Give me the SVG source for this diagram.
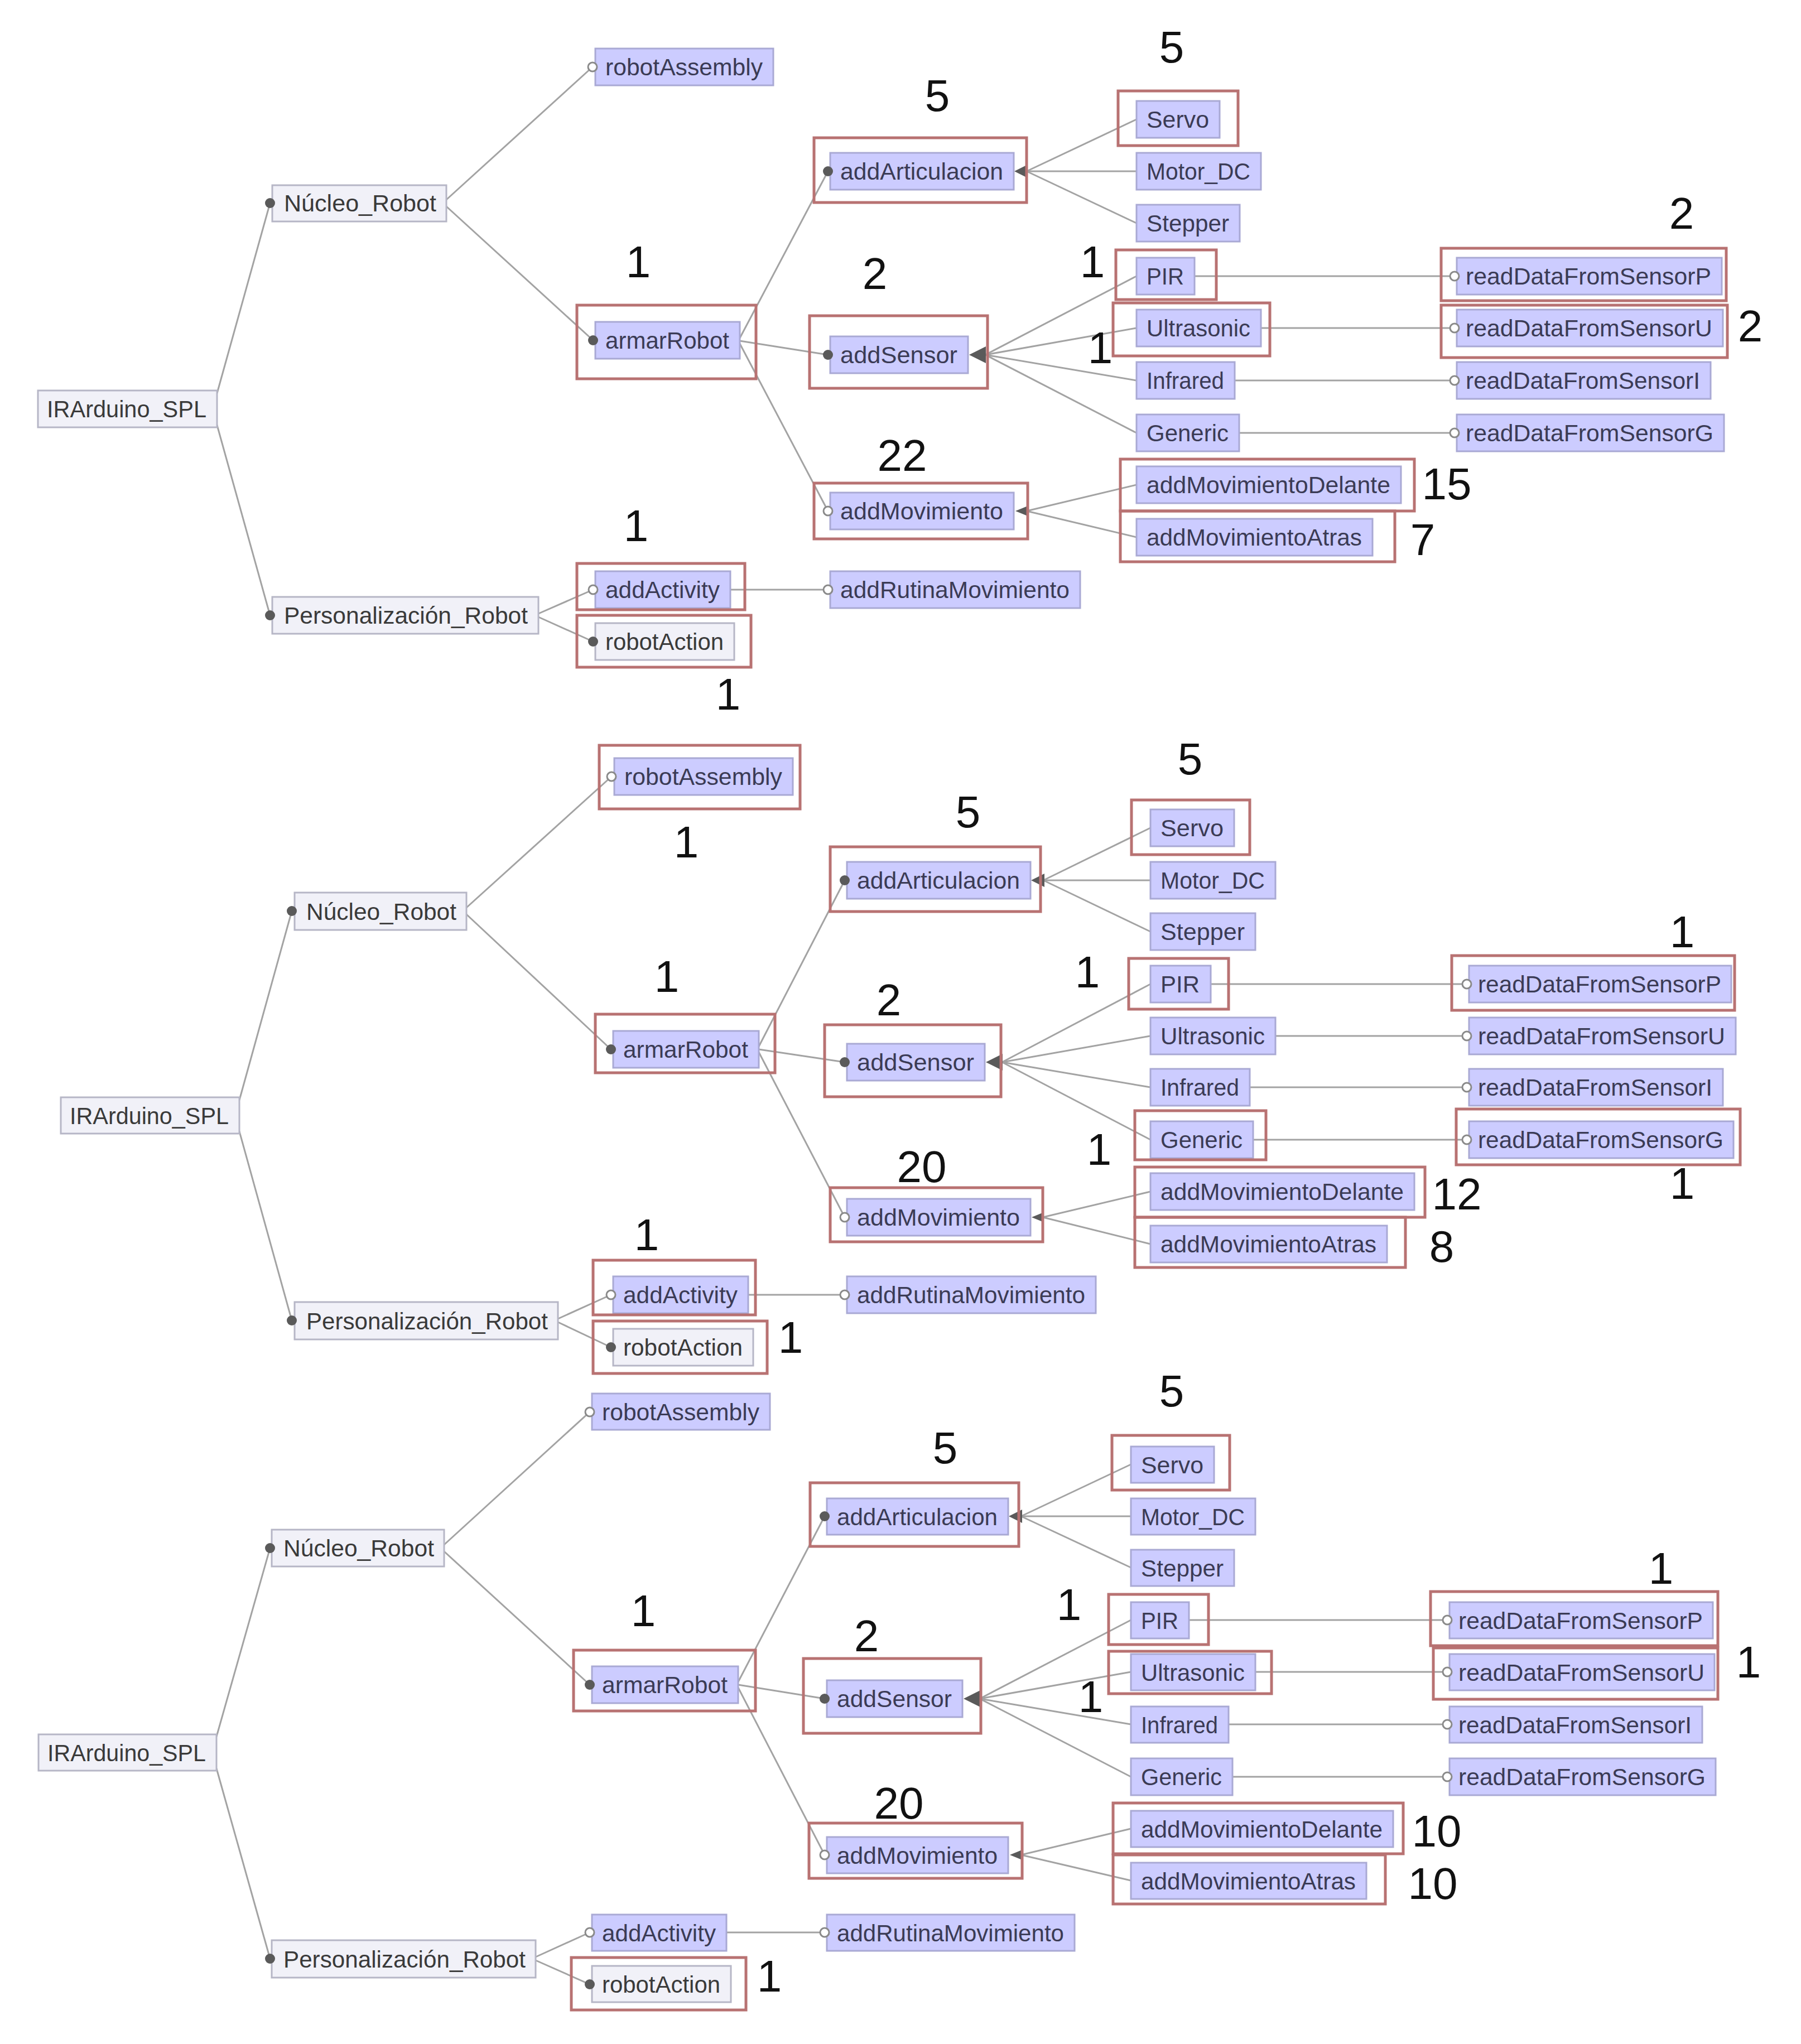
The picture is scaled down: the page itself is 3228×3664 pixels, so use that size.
<svg xmlns="http://www.w3.org/2000/svg" width="3228" height="3664" viewBox="0 0 3228 3664">
<style>
text{font-family:"Liberation Sans",Arial,sans-serif}
.c rect{fill:#ccccff;stroke:#a9a9d4;stroke-width:3}
.a rect{fill:#f1f1f8;stroke:#b6b6c6;stroke-width:3}
.c text,.a text{font-size:43px;fill:#3b3b55}
.a text{fill:#3a3a3a}
.dot{fill:#5a5a5a}
.opn{fill:#fff;stroke:#8a8a8a;stroke-width:3}
.ln line,.ln path{stroke:#a3a3a3;stroke-width:3;fill:none}
.wedge{fill:#5a5a5a}
.hl rect{fill:none;stroke:#b87272;stroke-width:5}
.num text{font-size:80px;fill:#111;text-anchor:middle}
</style>
<rect width="3228" height="3664" fill="#fff"/>

<!-- ===================== DIAGRAM 1 ===================== -->
<g id="d1-connectors" class="ln">
<line x1="389" y1="705" x2="484" y2="364"/><line x1="389" y1="762" x2="484" y2="1103"/>
<line x1="800" y1="358" x2="1062" y2="120"/><line x1="800" y1="370" x2="1063" y2="610"/>
<line x1="1326" y1="606" x2="1484" y2="307"/><line x1="1326" y1="611" x2="1484" y2="636"/><line x1="1326" y1="616" x2="1484" y2="916"/>
<line x1="1840" y1="307" x2="2037" y2="214"/><line x1="1840" y1="307" x2="2037" y2="307"/><line x1="1840" y1="307" x2="2037" y2="400"/>
<line x1="1766" y1="636" x2="2037" y2="495"/><line x1="1766" y1="636" x2="2037" y2="588"/><line x1="1766" y1="636" x2="2037" y2="682"/><line x1="1766" y1="636" x2="2037" y2="776"/>
<line x1="1840" y1="916" x2="2037" y2="869"/><line x1="1840" y1="916" x2="2037" y2="963"/>
<line x1="2141" y1="495" x2="2599" y2="495"/><line x1="2260" y1="588" x2="2599" y2="588"/><line x1="2213" y1="682" x2="2599" y2="682"/><line x1="2221" y1="776" x2="2599" y2="776"/>
<line x1="965" y1="1100" x2="1063" y2="1057"/><line x1="965" y1="1106" x2="1063" y2="1150"/>
<line x1="1309" y1="1057" x2="1484" y2="1057"/>
<polygon class="wedge" points="1818,307 1842,295 1842,319"/>
<polygon class="wedge" points="1737,636 1767,621 1767,651"/>
<polygon class="wedge" points="1820,916 1842,907 1842,925"/>
</g>

<g id="d1-root" class="a"><rect x="68" y="700" width="321" height="66"/><text x="84" y="748" textLength="286" lengthAdjust="spacingAndGlyphs">IRArduino_SPL</text></g>
<g id="d1-nucleo" class="a"><rect x="488" y="332" width="312" height="65"/><text x="509" y="379" textLength="273" lengthAdjust="spacingAndGlyphs">Núcleo_Robot</text><circle class="dot" cx="484" cy="364" r="9"/></g>
<g id="d1-pers" class="a"><rect x="488" y="1070" width="477" height="66"/><text x="509" y="1118" textLength="437" lengthAdjust="spacingAndGlyphs">Personalización_Robot</text><circle class="dot" cx="484" cy="1103" r="9"/></g>
<g id="d1-robotAssembly" class="c"><rect x="1067" y="87" width="319" height="66"/><text x="1085" y="135" textLength="282" lengthAdjust="spacingAndGlyphs">robotAssembly</text><circle class="opn" cx="1062" cy="120" r="8"/></g>
<g id="d1-armarRobot" class="c"><rect x="1067" y="577" width="259" height="66"/><text x="1085" y="625" textLength="222" lengthAdjust="spacingAndGlyphs">armarRobot</text><circle class="dot" cx="1063" cy="610" r="9"/></g>
<g id="d1-addActivity" class="c"><rect x="1067" y="1024" width="242" height="66"/><text x="1085" y="1072" textLength="205" lengthAdjust="spacingAndGlyphs">addActivity</text><circle class="opn" cx="1063" cy="1057" r="8"/></g>
<g id="d1-robotAction" class="a"><rect x="1067" y="1117" width="249" height="66"/><text x="1085" y="1165" textLength="212" lengthAdjust="spacingAndGlyphs">robotAction</text><circle class="dot" cx="1063" cy="1150" r="9"/></g>
<g id="d1-addArticulacion" class="c"><rect x="1488" y="274" width="329" height="66"/><text x="1506" y="322" textLength="292" lengthAdjust="spacingAndGlyphs">addArticulacion</text><circle class="dot" cx="1484" cy="307" r="9"/></g>
<g id="d1-addSensor" class="c"><rect x="1488" y="603" width="247" height="66"/><text x="1506" y="651" textLength="210" lengthAdjust="spacingAndGlyphs">addSensor</text><circle class="dot" cx="1484" cy="636" r="9"/></g>
<g id="d1-addMovimiento" class="c"><rect x="1488" y="883" width="329" height="66"/><text x="1506" y="931" textLength="292" lengthAdjust="spacingAndGlyphs">addMovimiento</text><circle class="opn" cx="1484" cy="916" r="8"/></g>
<g id="d1-addRutinaMovimiento" class="c"><rect x="1488" y="1024" width="448" height="66"/><text x="1506" y="1072" textLength="411" lengthAdjust="spacingAndGlyphs">addRutinaMovimiento</text><circle class="opn" cx="1484" cy="1057" r="8"/></g>
<g id="d1-Servo" class="c"><rect x="2037" y="181" width="149" height="66"/><text x="2055" y="229" textLength="112" lengthAdjust="spacingAndGlyphs">Servo</text></g>
<g id="d1-Motor_DC" class="c"><rect x="2037" y="274" width="223" height="66"/><text x="2055" y="322" textLength="186" lengthAdjust="spacingAndGlyphs">Motor_DC</text></g>
<g id="d1-Stepper" class="c"><rect x="2037" y="367" width="185" height="66"/><text x="2055" y="415" textLength="148" lengthAdjust="spacingAndGlyphs">Stepper</text></g>
<g id="d1-PIR" class="c"><rect x="2037" y="462" width="104" height="66"/><text x="2055" y="510" textLength="67" lengthAdjust="spacingAndGlyphs">PIR</text></g>
<g id="d1-Ultrasonic" class="c"><rect x="2037" y="555" width="223" height="66"/><text x="2055" y="603" textLength="186" lengthAdjust="spacingAndGlyphs">Ultrasonic</text></g>
<g id="d1-Infrared" class="c"><rect x="2037" y="649" width="176" height="66"/><text x="2055" y="697" textLength="139" lengthAdjust="spacingAndGlyphs">Infrared</text></g>
<g id="d1-Generic" class="c"><rect x="2037" y="743" width="184" height="66"/><text x="2055" y="791" textLength="147" lengthAdjust="spacingAndGlyphs">Generic</text></g>
<g id="d1-addMovimientoDelante" class="c"><rect x="2037" y="836" width="474" height="66"/><text x="2055" y="884" textLength="437" lengthAdjust="spacingAndGlyphs">addMovimientoDelante</text></g>
<g id="d1-addMovimientoAtras" class="c"><rect x="2037" y="930" width="423" height="66"/><text x="2055" y="978" textLength="386" lengthAdjust="spacingAndGlyphs">addMovimientoAtras</text></g>
<g id="d1-readDataFromSensorP" class="c"><rect x="2611" y="462" width="475" height="66"/><text x="2627" y="510" textLength="440" lengthAdjust="spacingAndGlyphs">readDataFromSensorP</text><circle class="opn" cx="2607" cy="495" r="8"/></g>
<g id="d1-readDataFromSensorU" class="c"><rect x="2611" y="555" width="477" height="66"/><text x="2627" y="603" textLength="442" lengthAdjust="spacingAndGlyphs">readDataFromSensorU</text><circle class="opn" cx="2607" cy="588" r="8"/></g>
<g id="d1-readDataFromSensorI" class="c"><rect x="2611" y="649" width="455" height="66"/><text x="2627" y="697" textLength="420" lengthAdjust="spacingAndGlyphs">readDataFromSensorI</text><circle class="opn" cx="2607" cy="682" r="8"/></g>
<g id="d1-readDataFromSensorG" class="c"><rect x="2611" y="743" width="479" height="66"/><text x="2627" y="791" textLength="444" lengthAdjust="spacingAndGlyphs">readDataFromSensorG</text><circle class="opn" cx="2607" cy="776" r="8"/></g>

<g id="d1-highlights" class="hl">
<rect x="1034" y="547" width="321" height="132"/>
<rect x="1034" y="1010" width="301" height="83"/>
<rect x="1034" y="1103" width="312" height="93"/>
<rect x="1459" y="247" width="381" height="116"/>
<rect x="1451" y="566" width="319" height="130"/>
<rect x="1459" y="866" width="383" height="100"/>
<rect x="2004" y="163" width="215" height="98"/>
<rect x="2000" y="448" width="180" height="89"/>
<rect x="1995" y="543" width="281" height="95"/>
<rect x="2008" y="823" width="527" height="93"/>
<rect x="2008" y="916" width="492" height="91"/>
<rect x="2583" y="445" width="511" height="94"/>
<rect x="2583" y="547" width="513" height="94"/>
</g>
<g id="d1-numbers" class="num">
<text x="1680" y="199">5</text><text x="2100" y="112">5</text>
<text x="1144" y="497">1</text><text x="1568" y="518">2</text>
<text x="1958" y="497">1</text><text x="1972" y="651">1</text>
<text x="1617" y="844">22</text>
<text x="3014" y="410">2</text><text x="3137" y="612">2</text>
<text x="2593" y="895">15</text><text x="2550" y="995">7</text>
<text x="1140" y="970">1</text><text x="1305" y="1272">1</text>
</g>

<!-- ===================== DIAGRAM 2 ===================== -->
<g id="d2-connectors" class="ln">
<line x1="429" y1="1972" x2="523" y2="1633"/><line x1="429" y1="2028" x2="523" y2="2367"/>
<line x1="836" y1="1627" x2="1096" y2="1392"/><line x1="836" y1="1639" x2="1095" y2="1881"/>
<line x1="1360" y1="1876" x2="1514" y2="1578"/><line x1="1360" y1="1881" x2="1514" y2="1904"/><line x1="1360" y1="1886" x2="1514" y2="2182"/>
<line x1="1870" y1="1578" x2="2062" y2="1484"/><line x1="1870" y1="1578" x2="2062" y2="1578"/><line x1="1870" y1="1578" x2="2062" y2="1670"/>
<line x1="1796" y1="1904" x2="2062" y2="1764"/><line x1="1796" y1="1904" x2="2062" y2="1857"/><line x1="1796" y1="1904" x2="2062" y2="1949"/><line x1="1796" y1="1904" x2="2062" y2="2043"/>
<line x1="1869" y1="2182" x2="2062" y2="2136"/><line x1="1869" y1="2182" x2="2062" y2="2230"/>
<line x1="2170" y1="1764" x2="2621" y2="1764"/><line x1="2286" y1="1857" x2="2621" y2="1857"/><line x1="2240" y1="1949" x2="2621" y2="1949"/><line x1="2246" y1="2043" x2="2621" y2="2043"/>
<line x1="1000" y1="2364" x2="1095" y2="2321"/><line x1="1000" y1="2370" x2="1095" y2="2415"/>
<line x1="1341" y1="2321" x2="1514" y2="2321"/>
<polygon class="wedge" points="1848,1578 1872,1566 1872,1590"/>
<polygon class="wedge" points="1767,1904 1797,1889 1797,1919"/>
<polygon class="wedge" points="1849,2182 1871,2173 1871,2191"/>
</g>

<g id="d2-root" class="a"><rect x="109" y="1967" width="320" height="65"/><text x="125" y="2015" textLength="285" lengthAdjust="spacingAndGlyphs">IRArduino_SPL</text></g>
<g id="d2-nucleo" class="a"><rect x="528" y="1600" width="308" height="67"/><text x="549" y="1649" textLength="269" lengthAdjust="spacingAndGlyphs">Núcleo_Robot</text><circle class="dot" cx="523" cy="1633" r="9"/></g>
<g id="d2-pers" class="a"><rect x="528" y="2334" width="472" height="67"/><text x="549" y="2383" textLength="433" lengthAdjust="spacingAndGlyphs">Personalización_Robot</text><circle class="dot" cx="523" cy="2367" r="9"/></g>
<g id="d2-robotAssembly" class="c"><rect x="1101" y="1359" width="320" height="66"/><text x="1119" y="1407" textLength="283" lengthAdjust="spacingAndGlyphs">robotAssembly</text><circle class="opn" cx="1096" cy="1392" r="8"/></g>
<g id="d2-armarRobot" class="c"><rect x="1099" y="1848" width="261" height="66"/><text x="1117" y="1896" textLength="224" lengthAdjust="spacingAndGlyphs">armarRobot</text><circle class="dot" cx="1095" cy="1881" r="9"/></g>
<g id="d2-addActivity" class="c"><rect x="1099" y="2288" width="242" height="66"/><text x="1117" y="2336" textLength="205" lengthAdjust="spacingAndGlyphs">addActivity</text><circle class="opn" cx="1095" cy="2321" r="8"/></g>
<g id="d2-robotAction" class="a"><rect x="1099" y="2382" width="251" height="66"/><text x="1117" y="2430" textLength="214" lengthAdjust="spacingAndGlyphs">robotAction</text><circle class="dot" cx="1095" cy="2415" r="9"/></g>
<g id="d2-addArticulacion" class="c"><rect x="1518" y="1545" width="329" height="66"/><text x="1536" y="1593" textLength="292" lengthAdjust="spacingAndGlyphs">addArticulacion</text><circle class="dot" cx="1514" cy="1578" r="9"/></g>
<g id="d2-addSensor" class="c"><rect x="1518" y="1871" width="247" height="66"/><text x="1536" y="1919" textLength="210" lengthAdjust="spacingAndGlyphs">addSensor</text><circle class="dot" cx="1514" cy="1904" r="9"/></g>
<g id="d2-addMovimiento" class="c"><rect x="1518" y="2149" width="329" height="66"/><text x="1536" y="2197" textLength="292" lengthAdjust="spacingAndGlyphs">addMovimiento</text><circle class="opn" cx="1514" cy="2182" r="8"/></g>
<g id="d2-addRutinaMovimiento" class="c"><rect x="1518" y="2288" width="446" height="66"/><text x="1536" y="2336" textLength="409" lengthAdjust="spacingAndGlyphs">addRutinaMovimiento</text><circle class="opn" cx="1514" cy="2321" r="8"/></g>
<g id="d2-Servo" class="c"><rect x="2062" y="1451" width="150" height="66"/><text x="2080" y="1499" textLength="113" lengthAdjust="spacingAndGlyphs">Servo</text></g>
<g id="d2-Motor_DC" class="c"><rect x="2062" y="1545" width="224" height="66"/><text x="2080" y="1593" textLength="187" lengthAdjust="spacingAndGlyphs">Motor_DC</text></g>
<g id="d2-Stepper" class="c"><rect x="2062" y="1637" width="188" height="66"/><text x="2080" y="1685" textLength="151" lengthAdjust="spacingAndGlyphs">Stepper</text></g>
<g id="d2-PIR" class="c"><rect x="2062" y="1731" width="108" height="66"/><text x="2080" y="1779" textLength="70" lengthAdjust="spacingAndGlyphs">PIR</text></g>
<g id="d2-Ultrasonic" class="c"><rect x="2062" y="1824" width="224" height="66"/><text x="2080" y="1872" textLength="187" lengthAdjust="spacingAndGlyphs">Ultrasonic</text></g>
<g id="d2-Infrared" class="c"><rect x="2062" y="1916" width="178" height="66"/><text x="2080" y="1964" textLength="141" lengthAdjust="spacingAndGlyphs">Infrared</text></g>
<g id="d2-Generic" class="c"><rect x="2062" y="2010" width="184" height="66"/><text x="2080" y="2058" textLength="147" lengthAdjust="spacingAndGlyphs">Generic</text></g>
<g id="d2-addMovimientoDelante" class="c"><rect x="2062" y="2103" width="473" height="66"/><text x="2080" y="2151" textLength="436" lengthAdjust="spacingAndGlyphs">addMovimientoDelante</text></g>
<g id="d2-addMovimientoAtras" class="c"><rect x="2062" y="2197" width="424" height="66"/><text x="2080" y="2245" textLength="387" lengthAdjust="spacingAndGlyphs">addMovimientoAtras</text></g>
<g id="d2-readDataFromSensorP" class="c"><rect x="2633" y="1731" width="470" height="66"/><text x="2649" y="1779" textLength="436" lengthAdjust="spacingAndGlyphs">readDataFromSensorP</text><circle class="opn" cx="2629" cy="1764" r="8"/></g>
<g id="d2-readDataFromSensorU" class="c"><rect x="2633" y="1824" width="478" height="66"/><text x="2649" y="1872" textLength="443" lengthAdjust="spacingAndGlyphs">readDataFromSensorU</text><circle class="opn" cx="2629" cy="1857" r="8"/></g>
<g id="d2-readDataFromSensorI" class="c"><rect x="2633" y="1916" width="455" height="66"/><text x="2649" y="1964" textLength="420" lengthAdjust="spacingAndGlyphs">readDataFromSensorI</text><circle class="opn" cx="2629" cy="1949" r="8"/></g>
<g id="d2-readDataFromSensorG" class="c"><rect x="2633" y="2010" width="474" height="66"/><text x="2649" y="2058" textLength="440" lengthAdjust="spacingAndGlyphs">readDataFromSensorG</text><circle class="opn" cx="2629" cy="2043" r="8"/></g>

<g id="d2-highlights" class="hl">
<rect x="1074" y="1336" width="360" height="114"/>
<rect x="1067" y="1818" width="322" height="105"/>
<rect x="1063" y="2259" width="291" height="98"/>
<rect x="1063" y="2368" width="312" height="94"/>
<rect x="1488" y="1518" width="377" height="116"/>
<rect x="1478" y="1837" width="316" height="129"/>
<rect x="1488" y="2129" width="381" height="97"/>
<rect x="2028" y="1434" width="212" height="98"/>
<rect x="2023" y="1718" width="179" height="91"/>
<rect x="2034" y="1991" width="235" height="88"/>
<rect x="2034" y="2092" width="520" height="90"/>
<rect x="2034" y="2182" width="485" height="90"/>
<rect x="2602" y="1713" width="507" height="98"/>
<rect x="2610" y="1988" width="509" height="100"/>
</g>
<g id="d2-numbers" class="num">
<text x="2133" y="1388">5</text><text x="1735" y="1483">5</text>
<text x="1230" y="1537">1</text><text x="1195" y="1778">1</text>
<text x="1593" y="1820">2</text><text x="1949" y="1770">1</text>
<text x="1970" y="2088">1</text><text x="1652" y="2119">20</text>
<text x="2611" y="2168">12</text><text x="2584" y="2262">8</text>
<text x="3015" y="1698">1</text><text x="3015" y="2149">1</text>
<text x="1159" y="2241">1</text><text x="1417" y="2425">1</text>
</g>

<!-- ===================== DIAGRAM 3 ===================== -->
<g id="d3-connectors" class="ln">
<line x1="388" y1="3113" x2="484" y2="2775"/><line x1="388" y1="3170" x2="484" y2="3511"/>
<line x1="796" y1="2769" x2="1057" y2="2531"/><line x1="796" y1="2781" x2="1057" y2="3020"/>
<line x1="1323" y1="3015" x2="1478" y2="2718"/><line x1="1323" y1="3020" x2="1478" y2="3045"/><line x1="1323" y1="3025" x2="1478" y2="3325"/>
<line x1="1830" y1="2718" x2="2027" y2="2625"/><line x1="1830" y1="2718" x2="2027" y2="2718"/><line x1="1830" y1="2718" x2="2027" y2="2810"/>
<line x1="1756" y1="3045" x2="2027" y2="2904"/><line x1="1756" y1="3045" x2="2027" y2="2997"/><line x1="1756" y1="3045" x2="2027" y2="3091"/><line x1="1756" y1="3045" x2="2027" y2="3185"/>
<line x1="1830" y1="3325" x2="2027" y2="3278"/><line x1="1830" y1="3325" x2="2027" y2="3371"/>
<line x1="2131" y1="2904" x2="2586" y2="2904"/><line x1="2250" y1="2997" x2="2586" y2="2997"/><line x1="2202" y1="3091" x2="2586" y2="3091"/><line x1="2209" y1="3185" x2="2586" y2="3185"/>
<line x1="960" y1="3508" x2="1057" y2="3464"/><line x1="960" y1="3514" x2="1057" y2="3557"/>
<line x1="1302" y1="3464" x2="1478" y2="3464"/>
<polygon class="wedge" points="1808,2718 1832,2706 1832,2730"/>
<polygon class="wedge" points="1727,3045 1757,3030 1757,3060"/>
<polygon class="wedge" points="1810,3325 1832,3316 1832,3334"/>
</g>

<g id="d3-root" class="a"><rect x="69" y="3109" width="319" height="65"/><text x="85" y="3157" textLength="284" lengthAdjust="spacingAndGlyphs">IRArduino_SPL</text></g>
<g id="d3-nucleo" class="a"><rect x="487" y="2742" width="309" height="66"/><text x="508" y="2790" textLength="270" lengthAdjust="spacingAndGlyphs">Núcleo_Robot</text><circle class="dot" cx="484" cy="2775" r="9"/></g>
<g id="d3-pers" class="a"><rect x="487" y="3478" width="473" height="67"/><text x="508" y="3527" textLength="434" lengthAdjust="spacingAndGlyphs">Personalización_Robot</text><circle class="dot" cx="484" cy="3511" r="9"/></g>
<g id="d3-robotAssembly" class="c"><rect x="1061" y="2498" width="319" height="65"/><text x="1079" y="2546" textLength="282" lengthAdjust="spacingAndGlyphs">robotAssembly</text><circle class="opn" cx="1057" cy="2531" r="8"/></g>
<g id="d3-armarRobot" class="c"><rect x="1061" y="2987" width="262" height="66"/><text x="1079" y="3035" textLength="225" lengthAdjust="spacingAndGlyphs">armarRobot</text><circle class="dot" cx="1057" cy="3020" r="9"/></g>
<g id="d3-addActivity" class="c"><rect x="1061" y="3432" width="241" height="65"/><text x="1079" y="3480" textLength="204" lengthAdjust="spacingAndGlyphs">addActivity</text><circle class="opn" cx="1057" cy="3464" r="8"/></g>
<g id="d3-robotAction" class="a"><rect x="1061" y="3524" width="249" height="65"/><text x="1079" y="3572" textLength="212" lengthAdjust="spacingAndGlyphs">robotAction</text><circle class="dot" cx="1057" cy="3557" r="9"/></g>
<g id="d3-addArticulacion" class="c"><rect x="1482" y="2686" width="325" height="65"/><text x="1500" y="2734" textLength="288" lengthAdjust="spacingAndGlyphs">addArticulacion</text><circle class="dot" cx="1478" cy="2718" r="9"/></g>
<g id="d3-addSensor" class="c"><rect x="1482" y="3012" width="243" height="66"/><text x="1500" y="3060" textLength="206" lengthAdjust="spacingAndGlyphs">addSensor</text><circle class="dot" cx="1478" cy="3045" r="9"/></g>
<g id="d3-addMovimiento" class="c"><rect x="1482" y="3293" width="325" height="65"/><text x="1500" y="3341" textLength="288" lengthAdjust="spacingAndGlyphs">addMovimiento</text><circle class="opn" cx="1478" cy="3325" r="8"/></g>
<g id="d3-addRutinaMovimiento" class="c"><rect x="1482" y="3432" width="444" height="65"/><text x="1500" y="3480" textLength="407" lengthAdjust="spacingAndGlyphs">addRutinaMovimiento</text><circle class="opn" cx="1478" cy="3464" r="8"/></g>
<g id="d3-Servo" class="c"><rect x="2027" y="2593" width="149" height="65"/><text x="2045" y="2641" textLength="112" lengthAdjust="spacingAndGlyphs">Servo</text></g>
<g id="d3-Motor_DC" class="c"><rect x="2027" y="2686" width="223" height="65"/><text x="2045" y="2734" textLength="186" lengthAdjust="spacingAndGlyphs">Motor_DC</text></g>
<g id="d3-Stepper" class="c"><rect x="2027" y="2778" width="185" height="65"/><text x="2045" y="2826" textLength="148" lengthAdjust="spacingAndGlyphs">Stepper</text></g>
<g id="d3-PIR" class="c"><rect x="2027" y="2872" width="104" height="65"/><text x="2045" y="2920" textLength="67" lengthAdjust="spacingAndGlyphs">PIR</text></g>
<g id="d3-Ultrasonic" class="c"><rect x="2027" y="2965" width="223" height="65"/><text x="2045" y="3013" textLength="186" lengthAdjust="spacingAndGlyphs">Ultrasonic</text></g>
<g id="d3-Infrared" class="c"><rect x="2027" y="3059" width="175" height="65"/><text x="2045" y="3107" textLength="138" lengthAdjust="spacingAndGlyphs">Infrared</text></g>
<g id="d3-Generic" class="c"><rect x="2027" y="3152" width="182" height="66"/><text x="2045" y="3200" textLength="145" lengthAdjust="spacingAndGlyphs">Generic</text></g>
<g id="d3-addMovimientoDelante" class="c"><rect x="2027" y="3246" width="470" height="65"/><text x="2045" y="3294" textLength="433" lengthAdjust="spacingAndGlyphs">addMovimientoDelante</text></g>
<g id="d3-addMovimientoAtras" class="c"><rect x="2027" y="3339" width="422" height="65"/><text x="2045" y="3387" textLength="385" lengthAdjust="spacingAndGlyphs">addMovimientoAtras</text></g>
<g id="d3-readDataFromSensorP" class="c"><rect x="2598" y="2872" width="472" height="65"/><text x="2614" y="2920" textLength="438" lengthAdjust="spacingAndGlyphs">readDataFromSensorP</text><circle class="opn" cx="2594" cy="2904" r="8"/></g>
<g id="d3-readDataFromSensorU" class="c"><rect x="2598" y="2965" width="475" height="65"/><text x="2614" y="3013" textLength="441" lengthAdjust="spacingAndGlyphs">readDataFromSensorU</text><circle class="opn" cx="2594" cy="2997" r="8"/></g>
<g id="d3-readDataFromSensorI" class="c"><rect x="2598" y="3059" width="453" height="65"/><text x="2614" y="3107" textLength="418" lengthAdjust="spacingAndGlyphs">readDataFromSensorI</text><circle class="opn" cx="2594" cy="3091" r="8"/></g>
<g id="d3-readDataFromSensorG" class="c"><rect x="2598" y="3152" width="477" height="66"/><text x="2614" y="3200" textLength="443" lengthAdjust="spacingAndGlyphs">readDataFromSensorG</text><circle class="opn" cx="2594" cy="3185" r="8"/></g>

<g id="d3-highlights" class="hl">
<rect x="1028" y="2958" width="326" height="109"/>
<rect x="1024" y="3509" width="313" height="94"/>
<rect x="1452" y="2658" width="374" height="114"/>
<rect x="1440" y="2973" width="318" height="134"/>
<rect x="1450" y="3268" width="382" height="99"/>
<rect x="1993" y="2573" width="211" height="98"/>
<rect x="1987" y="2858" width="179" height="90"/>
<rect x="1987" y="2960" width="292" height="76"/>
<rect x="1995" y="3232" width="520" height="91"/>
<rect x="1995" y="3325" width="488" height="88"/>
<rect x="2564" y="2853" width="515" height="97"/>
<rect x="2569" y="2954" width="510" height="92"/>
</g>
<g id="d3-numbers" class="num">
<text x="2100" y="2521">5</text><text x="1694" y="2623">5</text>
<text x="1153" y="2915">1</text><text x="1553" y="2960">2</text>
<text x="1916" y="2904">1</text><text x="1955" y="3069">1</text>
<text x="1611" y="3260">20</text>
<text x="2575" y="3310">10</text><text x="2568" y="3404">10</text>
<text x="2977" y="2839">1</text><text x="3134" y="3007">1</text>
<text x="1379" y="3570">1</text>
</g>
</svg>
